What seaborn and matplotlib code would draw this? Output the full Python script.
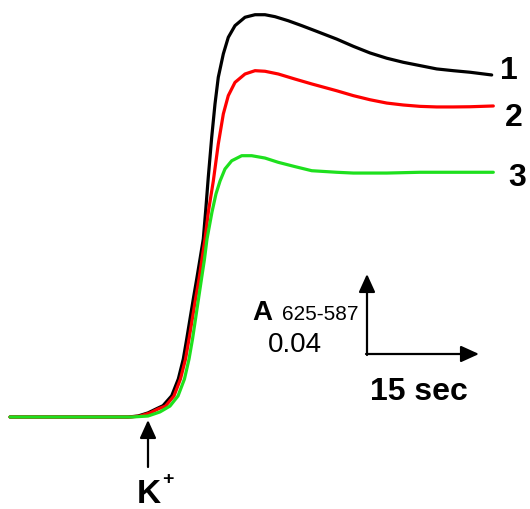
import numpy as np
import pandas as pd
import matplotlib
matplotlib.use("Agg")
import matplotlib.pyplot as plt
import seaborn as sns

# time (s, 0 = K+ addition) and absorbance change A625-587
t1 = [-19.71, -2.86, -1.43, 0.00, 1.14, 2.14, 3.39, 4.33, 5.04, 5.53, 6.00, 6.47, 6.96, 7.43,
      7.90, 8.26, 8.61, 9.10, 9.57, 10.04, 10.76, 11.47, 12.43, 13.86, 15.29, 16.71, 18.14,
      20.04, 21.96, 23.86, 26.96, 29.33, 31.71, 34.10, 36.47, 38.86, 41.24, 43.61, 46.00, 49.10]
a1 = [0.0, 0.0, 0.0005, 0.0021, 0.0041, 0.0058, 0.0109, 0.0195, 0.0297, 0.0400, 0.0503, 0.0605,
      0.0708, 0.0810, 0.0913, 0.1067, 0.1229, 0.1434, 0.1605, 0.1742, 0.1862, 0.1947, 0.2007,
      0.2050, 0.2063, 0.2063, 0.2053, 0.2032, 0.2007, 0.1981, 0.1938, 0.1901, 0.1867, 0.1840,
      0.1819, 0.1802, 0.1785, 0.1776, 0.1768, 0.1754]
t2 = [-19.71, -2.57, -1.14, 0.29, 1.43, 2.50, 3.71, 4.64, 5.36, 5.86, 6.33, 6.79, 7.29, 7.71,
      8.14, 8.64, 9.33, 10.04, 10.76, 11.47, 12.43, 13.86, 15.29, 16.71, 18.61, 21.00, 23.39,
      26.96, 29.33, 31.71, 34.10, 36.47, 38.86, 41.24, 43.61, 46.00, 49.33]
a2 = [0.0, 0.0, 0.0005, 0.0021, 0.0041, 0.0056, 0.0108, 0.0195, 0.0297, 0.0400, 0.0503, 0.0605,
      0.0708, 0.0810, 0.0913, 0.1056, 0.1210, 0.1400, 0.1554, 0.1648, 0.1716, 0.1759, 0.1776,
      0.1773, 0.1759, 0.1733, 0.1708, 0.1673, 0.1648, 0.1627, 0.1610, 0.1600, 0.1593, 0.1590,
      0.1590, 0.1591, 0.1595]
t3 = [-19.71, -2.29, 0.00, 1.71, 3.14, 4.29, 5.21, 5.86, 6.36, 6.79, 7.21, 7.64, 8.07, 8.43,
      9.14, 9.71, 10.29, 11.00, 11.96, 13.39, 14.81, 16.71, 18.61, 21.00, 23.39, 26.96, 29.33,
      34.10, 38.86, 43.61, 49.33]
a3 = [0.0, 0.0, 0.0005, 0.0026, 0.0056, 0.0108, 0.0195, 0.0297, 0.0400, 0.0503, 0.0605, 0.0708,
      0.0810, 0.0913, 0.1051, 0.1144, 0.1210, 0.1272, 0.1314, 0.1340, 0.1340, 0.1328, 0.1306,
      0.1284, 0.1263, 0.1255, 0.1251, 0.1251, 0.1255, 0.1255, 0.1255]
series = ["1", "2", "3"]
colors = ["#000000", "#ff0000", "#1ee01e"]

df = pd.concat([
    pd.DataFrame({"t": t, "A": a, "s": s})
    for t, a, s in zip([t1, t2, t3], [a1, a2, a3], series)
], ignore_index=True)

W, H = 530, 510
fig = plt.figure(figsize=(W / 100, H / 100), dpi=100)
ax = fig.add_axes([0, 0, 1, 1])
sns.lineplot(data=df, x="t", y="A", hue="s", palette=colors, hue_order=series,
             sort=False, estimator=None, lw=2.3, legend=False, ax=ax,
             solid_joinstyle="round", solid_capstyle="round")
ax.set_xlim(-148 / 7, (W - 148) / 7)
ax.set_ylim((418 - H) / 1950, 418 / 1950)
ax.axis("off")


def fx(x):
    return x / W


def fy(y):
    return 1 - y / H


bold = dict(family="Liberation Sans", weight="bold", color="black")
norm = dict(family="Liberation Sans", color="black")

for lab, (x, y) in zip(series, [(500, 71), (505, 118), (508, 178)]):
    fig.text(fx(x), fy(y), lab, fontsize=23, ha="left", va="center", **bold)

arr = dict(arrowstyle="-|>,head_length=1.1,head_width=0.5", lw=1.6, color="black",
           mutation_scale=10, shrinkA=0, shrinkB=0)
# scale bar
ax.annotate("", xy=(fx(367), fy(275)), xytext=(fx(367), fy(356)),
            xycoords="figure fraction", textcoords="figure fraction", arrowprops=arr)
ax.annotate("", xy=(fx(479), fy(355)), xytext=(fx(366), fy(355)),
            xycoords="figure fraction", textcoords="figure fraction", arrowprops=arr)
fig.text(fx(370), fy(400), "15 sec", fontsize=23, ha="left", va="baseline", **bold)
fig.text(fx(252), fy(320), "A", fontsize=20, ha="left", va="baseline", **bold)
fig.text(fx(282), fy(320), "625-587", fontsize=15, ha="left", va="baseline", **norm)
fig.text(fx(268), fy(352), "0.04", fontsize=20, ha="left", va="baseline", **norm)

# K+ arrow
ax.annotate("", xy=(fx(148), fy(421)), xytext=(fx(148), fy(468)),
            xycoords="figure fraction", textcoords="figure fraction", arrowprops=arr)
fig.text(fx(137), fy(503), "K", fontsize=24, ha="left", va="baseline", **bold)
fig.text(fx(162), fy(484), "+", fontsize=14, ha="left", va="baseline", **bold)

fig.savefig("out.png", dpi=100)
